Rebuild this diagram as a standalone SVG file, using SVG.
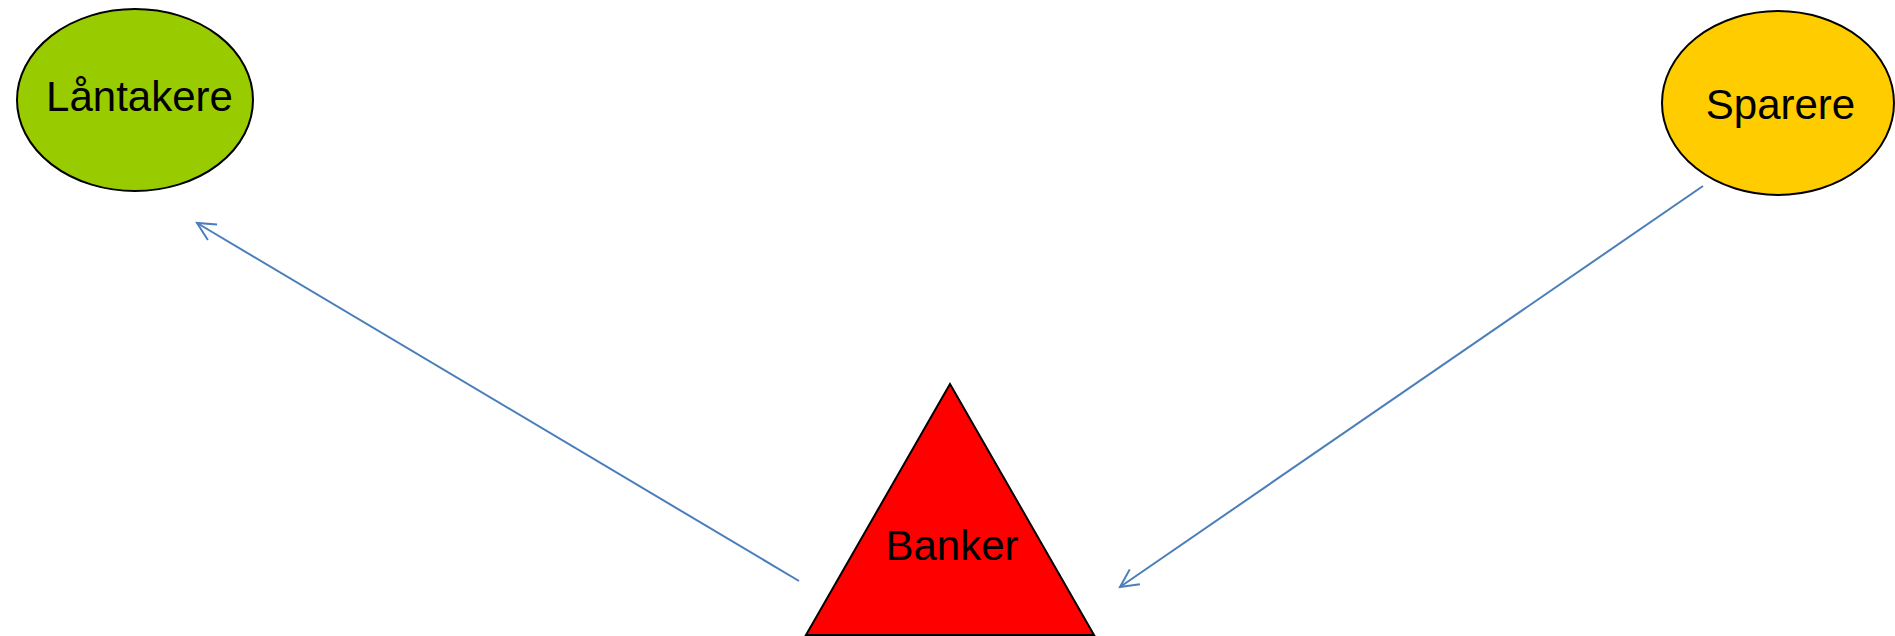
<svg xmlns="http://www.w3.org/2000/svg" width="1895" height="636" viewBox="0 0 1895 636">
<style>
.node{stroke:#000;stroke-width:2}
.lbl{font-family:"Liberation Sans",Arial,sans-serif;font-size:42px;fill:#000;text-anchor:middle}
.conn{stroke:#4A7EBB;stroke-width:2;fill:none}
</style>
<defs>
<marker id="arr" markerUnits="userSpaceOnUse" markerWidth="30" markerHeight="30" viewBox="-25 -15 30 30" refX="0" refY="0" orient="auto">
<path d="M -18 -9 L 0 0 L -18 9" fill="none" stroke="#4A7EBB" stroke-width="2"/>
</marker>
</defs>
<rect width="1895" height="636" fill="#fff"/>
<g id="connectors">
<line class="conn" x1="799" y1="581" x2="197" y2="223" marker-end="url(#arr)"/>
<line class="conn" x1="1703" y1="186" x2="1120" y2="587" marker-end="url(#arr)"/>
</g>
<g id="lantakere">
<ellipse class="node" cx="135" cy="100" rx="118" ry="91" fill="#99CC00"/>
<text class="lbl" x="139.5" y="111">Låntakere</text>
</g>
<g id="sparere">
<ellipse class="node" cx="1778" cy="103" rx="116" ry="92" fill="#FFCC00"/>
<text class="lbl" x="1780.5" y="119">Sparere</text>
</g>
<g id="banker">
<polygon class="node" points="950,384 806,635 1094,635" fill="#FF0000"/>
<text class="lbl" x="952" y="560">Banker</text>
</g>
</svg>
